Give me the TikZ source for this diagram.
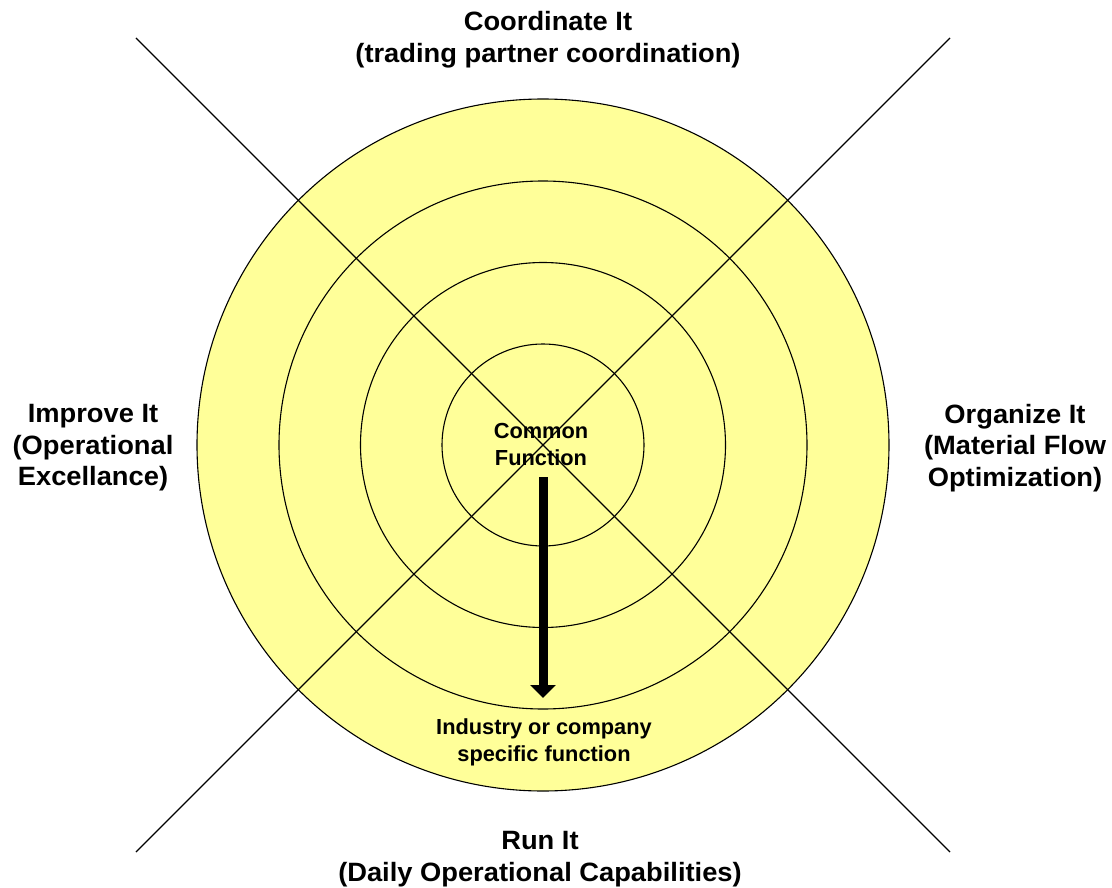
\documentclass[tikz,border=0pt]{standalone}
\usepackage{fontspec}
\setmainfont{Liberation Sans}
\newfontfamily\widefont{Liberation Sans}[FakeStretch=1.03]
\usetikzlibrary{arrows.meta}
\definecolor{ringfill}{HTML}{FFFF99}
\begin{document}
\begin{tikzpicture}[x=1pt,y=-1pt,
  ring/.style={draw=black,line width=1.1pt},
  diag/.style={draw=black,line width=1.2pt},
  lbl/.style={align=center,inner sep=0pt,font=\widefont\bfseries\fontsize{26.5}{31.5}\selectfont},
  inlbl/.style={align=center,inner sep=0pt,font=\bfseries\fontsize{21.8}{27}\selectfont},
  bigarrow/.style={draw=black,line width=9pt,-{Triangle[width=25pt,length=13pt]}}]
\useasboundingbox (0,0) rectangle (1112,888);
\coordinate (c) at (543,445);
\fill[ringfill] (c) circle[radius=346pt];
\draw[ring] (c) circle[radius=346pt];
\draw[ring] (c) circle[radius=264pt];
\draw[ring] (c) circle[radius=182.5pt];
\draw[ring] (c) circle[radius=101pt];
\coordinate (tl) at (136,38);
\coordinate (tr) at (950,38);
\coordinate (bl) at (136,852);
\coordinate (br) at (950,852);
\draw[diag] (tl) -- (br);
\draw[diag] (tr) -- (bl);
\node[lbl] (coord) at (548,39.5) {Coordinate It\\(trading partner coordination)};
\node[lbl] (improve) at (93,448) {Improve It\\(Operational\\Excellance)};
\node[lbl] (organize) at (1015,448) {Organize It\\(Material Flow\\Optimization)};
\node[lbl] (run) at (540,859) {Run It\\(Daily Operational Capabilities)};
\node[inlbl] (common) at (541,444) {Common\\Function};
\node[inlbl] (specific) at (544,742) {Industry or company\\specific function};
\coordinate (arrtop) at (543,477);
\coordinate (arrtip) at (543,698);
\draw[bigarrow] (arrtop) -- (arrtip);
\end{tikzpicture}
\end{document}
